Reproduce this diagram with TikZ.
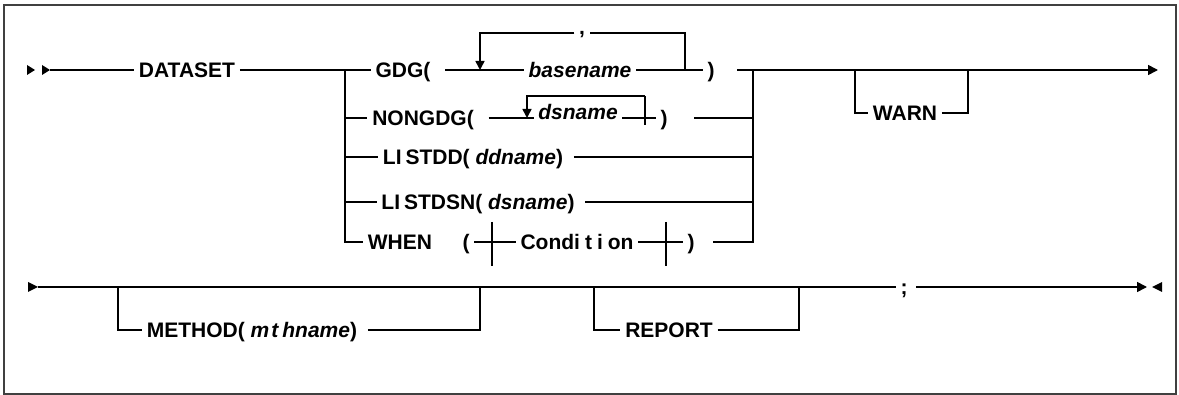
\documentclass[tikz,border=0pt]{standalone}
\usepackage{fontspec}
\setmainfont{Liberation Sans}
\usetikzlibrary{arrows.meta}
\tikzset{
    rail/.style={line width=0.8pt},
    kw/.style={font=\fontsize{10.5}{12.5}\selectfont\bfseries, inner sep=0pt, inner xsep=2pt, text height=7.5pt, text depth=0pt},
    var/.style={kw, font=\fontsize{10.5}{12.5}\selectfont\bfseries\itshape},
    endtip/.style={-{Triangle[length=5pt,width=5pt]}},
    looptip/.style={-{Triangle[length=4.5pt,width=4.5pt]}},
    gap/.style={shorten <=#1},
}

\begin{document}
\begin{tikzpicture}[x=0.5pt,y=-0.5pt,rail]
    \useasboundingbox (0,0) rectangle (1179,395);
    \draw[line width=0.9pt,black!75] (4,5) rectangle (1176,394);

    % first line
    \fill (27,65) -- (35,70) -- (27,75) -- cycle;
    \fill (42,65) -- (50,70) -- (42,75) -- cycle;
    \coordinate (s1) at (50,70);
    \node[kw] (dataset) at (187,70) {DATASET};
    \coordinate (bl1) at (345,70);
    \coordinate (bl5) at (345,242);
    \coordinate (br1) at (753,70);
    \coordinate (br5) at (753,242);

    \node[kw] (gdg) at (403,70) {GDG(};
    \node[var] (basename) at (580,70) {basename};
    \node[kw] (rp1) at (711,70) {)};
    \node[kw] (comma) at (582,33) {\raisebox{2.75pt}{,}};
    \coordinate (gl) at (480,70);
    \coordinate (glt) at (480,33);
    \coordinate (gr) at (685,70);
    \coordinate (grt) at (685,33);

    \node[kw] (nongdg) at (423,118) {NONGDG(};
    \node[var] (dsname) at (578,118) {\raisebox{2.75pt}{dsname}};
    \node[kw] (rp2) at (664,118) {)};
    \coordinate (nl) at (527,118);
    \coordinate (nlt) at (527,96);
    \coordinate (nrt) at (645,96);
    \coordinate (nrb) at (645,125);

    \node[kw] (listdd) at (473,157) {LI\kern2pt STDD( \textit{ddname})};
    \node[kw] (listdsn) at (478,202) {LI\kern2pt STDSN( \textit{dsname})};

    \node[kw] (when) at (400,242) {WHEN};
    \node[kw] (lp3) at (466,242) {(};
    \node[kw] (cond) at (577,242) {Condi\kern2.5pt t\kern2.5pt i\kern2.5pt on};
    \node[kw] (rp3) at (691,242) {)};

    \coordinate (wl) at (855,70);
    \coordinate (wlb) at (855,113);
    \node[kw] (warn) at (905,113) {WARN};
    \coordinate (wrb) at (968,113);
    \coordinate (wr) at (968,70);
    \coordinate (e1) at (1158,70);

    \draw (s1) -- (dataset);
    \draw (dataset) -- (bl1) -- (gdg);
    \draw (bl1) -- (bl5) -- (when);
    \foreach \n in {nongdg,listdd,listdsn}
        \draw (bl1 |- \n) -- (\n);

    \draw[gap=5pt] (gdg) -- (basename);
    \draw (basename) -- (rp1);
    \draw (gr) -- (grt) -- (comma);
    \draw[looptip] (comma) -- (glt) -- (gl);

    \draw[gap=5pt] (nongdg) -- (dsname);
    \draw (dsname) -- (rp2);
    \draw (nrb) -- (nrt);
    \draw[looptip] (nrt) -- (nlt) -- (nl);

    \draw (lp3) -- (cond) -- (rp3);
    \draw (492,222) -- (492,266);
    \draw (666,222) -- (666,266);

    \draw[gap=9pt] (rp1) -- (br1);
    \draw[gap=11pt] (rp2) -- (br1 |- rp2);
    \foreach \n in {listdd,listdsn}
        \draw[gap=3pt] (\n) -- (br1 |- \n);
    \draw[gap=7pt] (rp3) -- (br5) -- (br1);

    \draw[endtip] (br1) -- (e1);
    \draw (wl) -- (wlb) -- (warn) -- (wrb) -- (wr);

    % second line
    \fill (28,282) -- (38,287) -- (28,292) -- cycle;
    \coordinate (s2) at (38,287);
    \coordinate (ml) at (118,287);
    \coordinate (mlb) at (118,330);
    \node[kw] (method) at (252,330) {METHOD( \textit{m\kern1pt t\kern2pt hname})};
    \coordinate (mrb) at (480,330);
    \coordinate (mr) at (480,287);
    \coordinate (rl) at (594,287);
    \coordinate (rlb) at (594,330);
    \node[kw] (report) at (669,330) {REPORT};
    \coordinate (rrb) at (799,330);
    \coordinate (rr) at (799,287);
    \node[kw] (semi) at (904,287) {;};
    \coordinate (e2) at (1147,287);

    \draw (s2) -- (semi);
    \draw[endtip, gap=2pt] (semi) -- (e2);
    \fill (1162,282) -- (1152,287) -- (1162,292) -- cycle;
    \draw (ml) -- (mlb) -- (method);
    \draw[gap=3pt] (method) -- (mrb) -- (mr);
    \draw (rl) -- (rlb) -- (report) -- (rrb) -- (rr);
\end{tikzpicture}
\end{document}
